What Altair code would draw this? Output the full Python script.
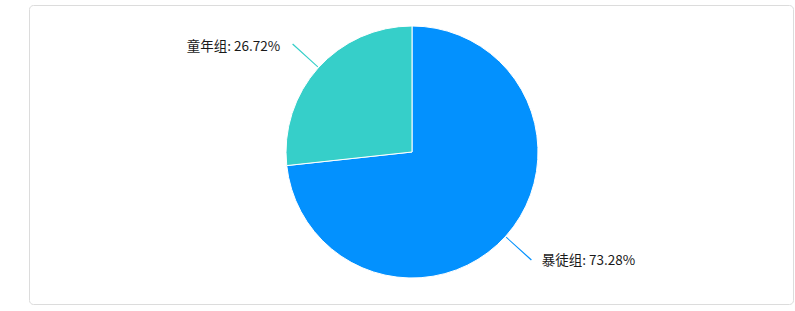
import altair as alt
import pandas as pd

categories = ["暴徒组", "童年组"]
percents = [73.28, 26.72]
colors = ["#0391fe", "#36cfc9"]

df = pd.DataFrame({"name": categories, "pct": percents, "ord": [0, 1]})

base = alt.Chart(df).transform_joinaggregate(
    total="sum(pct)"
).transform_window(
    cum="sum(pct)", sort=[alt.SortField("ord")]
).transform_calculate(
    mid="(datum.cum - datum.pct / 2) / datum.total * 2 * PI",
    mid2="(datum.cum - datum.pct / 2) / datum.total * 2 * PI + 0.008",
    label="datum.name + ': ' + format(datum.pct, '.2f') + '%'",
)

color = alt.Color("name:N", scale=alt.Scale(domain=categories, range=colors), legend=None)

cx = alt.value(383)
cy = alt.value(147)

pie = base.mark_arc(radius=126, stroke="white", strokeWidth=1).encode(
    theta=alt.Theta("pct:Q", stack=True),
    order=alt.Order("ord:Q"),
    color=color,
    x=cx, y=cy,
)

lines = base.mark_arc(radius=127, radius2=161).encode(
    theta=alt.Theta("mid:Q", scale=None),
    theta2="mid2:Q",
    color=color,
    x=cx, y=cy,
)

txt_left = base.transform_filter("datum.mid > PI").mark_text(
    align="right", baseline="middle", dx=-12, dy=3, fontSize=13.5,
    font="Noto Sans CJK SC", color="#1a1a1a",
).encode(
    theta=alt.Theta("mid:Q", scale=None),
    radius=alt.value(161),
    text="label:N",
    x=cx, y=cy,
)

txt_right = base.transform_filter("datum.mid <= PI").mark_text(
    align="left", baseline="middle", dx=10, dy=1, fontSize=13.5,
    font="Noto Sans CJK SC", color="#1a1a1a",
).encode(
    theta=alt.Theta("mid:Q", scale=None),
    radius=alt.value(161),
    text="label:N",
    x=cx, y=cy,
)

chart = alt.layer(pie, lines, txt_left, txt_right).properties(
    width=764, height=299,
    padding={"left": 29, "top": 5, "right": 2, "bottom": 7},
    background="white",
).configure_view(
    stroke="#dcdcdc", strokeWidth=1, cornerRadius=4
)

chart.save("out.html", embed_options={"renderer": "svg", "actions": False})
